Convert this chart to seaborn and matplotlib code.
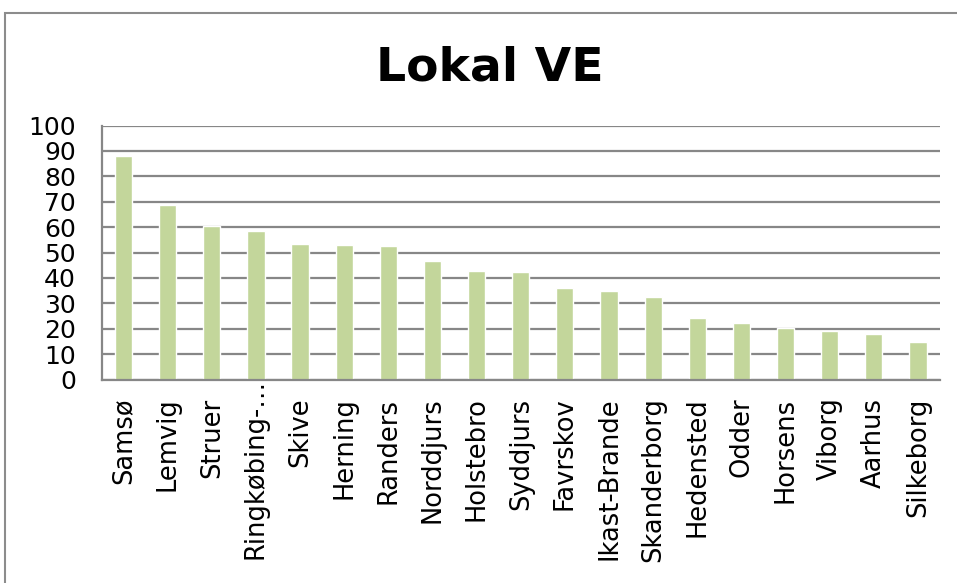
import matplotlib
matplotlib.use("Agg")
import matplotlib.pyplot as plt
import matplotlib.transforms as mtransforms
import seaborn as sns
import pandas as pd
from matplotlib.patches import Rectangle

categories = ["Samsø", "Lemvig", "Struer", "Ringkøbing-…", "Skive", "Herning", "Randers",
              "Norddjurs", "Holstebro", "Syddjurs", "Favrskov", "Ikast-Brande", "Skanderborg",
              "Hedensted", "Odder", "Horsens", "Viborg", "Aarhus", "Silkeborg"]
values = [88.0, 68.7, 60.4, 58.4, 53.5, 52.9, 52.5, 46.6, 42.9, 42.5, 35.9, 34.9, 32.4,
          24.1, 22.3, 20.2, 19.1, 18.0, 14.7]
yticks = list(range(0, 101, 10))
title = "Lokal VE"

df = pd.DataFrame({"kommune": categories, "andel": values})

sns.set_style("white")
plt.rcParams['font.family'] = ['DejaVu Sans']
plt.rcParams['text.color'] = 'black'
plt.rcParams['xtick.labelcolor'] = 'black'
plt.rcParams['ytick.labelcolor'] = 'black'

fig = plt.figure(figsize=(9.57, 5.83), dpi=100)
W, H = 957, 583
ax = fig.add_axes([101.5 / W, (H - 379.5) / H, (940 - 101.5) / W, (379.5 - 125.5) / H])

grid_c = "#878787"
sns.barplot(data=df, x="kommune", y="andel", color="#C3D69B", saturation=1,
            width=0.39, ax=ax, zorder=3)

ax.set_ylim(0, 100)
ax.set_xlim(-0.5, len(categories) - 0.5)
ax.set_yticks(yticks)
ax.set_yticklabels([str(t) for t in yticks], fontsize=18, color="black")
ax.yaxis.grid(True, color=grid_c, linewidth=1.6, zorder=0)
ax.set_axisbelow(True)
ax.set_xlabel("")
ax.set_ylabel("")

# x ticks: labels at centres, tick marks at category boundaries
ax.set_xticks(range(len(categories)))
ax.set_xticklabels(categories, rotation=90, fontsize=18.5, va="top", ha="center", color="black")
ax.tick_params(axis="x", which="major", length=0, pad=13)
ax.set_xticks([i - 0.5 for i in range(len(categories) + 1)], minor=True)
ax.tick_params(axis="x", which="minor", length=6, width=1.6, color=grid_c, direction="out")
ax.tick_params(axis="y", which="major", length=6.5, width=1.6, color=grid_c, direction="out", pad=12)

# the truncated label's ellipsis reaches up to the axis, as in the original
for lab in ax.get_xticklabels():
    if lab.get_text().endswith("…"):
        lab.set_transform(lab.get_transform() +
                          mtransforms.ScaledTranslation(0, 19 / 100, fig.dpi_scale_trans))

for s in ["top", "right"]:
    ax.spines[s].set_visible(False)
for s in ["left", "bottom"]:
    ax.spines[s].set_color(grid_c)
    ax.spines[s].set_linewidth(1.6)
    ax.spines[s].set_zorder(4)

fig.text(490 / W, 1 - 68 / H, title, fontsize=34, fontweight="bold",
         ha="center", va="center", color="black")

# outer chart border
fig.patches.append(Rectangle((5 / W, -0.05), 1.0, 1 - 13 / H + 0.05, transform=fig.transFigure,
                             fill=False, edgecolor="#8c8c8c", linewidth=1.5))

fig.savefig("out.png", dpi=100)
